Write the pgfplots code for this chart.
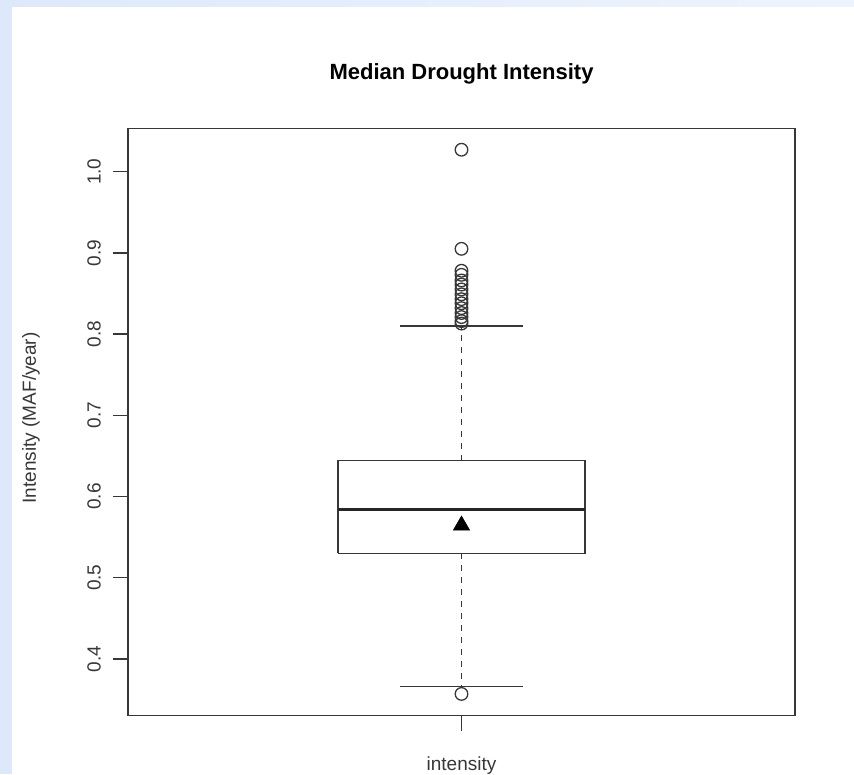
\documentclass[border=0pt]{standalone}
\usepackage{pgfplots}
\pgfplotsset{compat=1.18}
\usepackage{fontspec}
\setmainfont{Liberation Sans}
\definecolor{bgblue}{RGB}{221,233,251}
\definecolor{bgblue2}{RGB}{238,244,253}
\definecolor{ink}{RGB}{55,55,55}
\begin{document}
\begin{tikzpicture}[x=1pt,y=1pt]
\path[use as bounding box] (0,0) rectangle (854,774);
\fill[white] (0,0) rectangle (854,774);
\shade[left color=bgblue, right color=bgblue2] (0,767) rectangle (854,774);
\fill[bgblue] (0,0) rectangle (12,774);
\begin{axis}[
  at={(128pt,58.3pt)}, anchor=south west,
  width=667pt, height=587.4pt, scale only axis,
  xmin=0.5, xmax=1.5, ymin=0.3302, ymax=1.0534,
  axis line style={ink, line width=1.3pt},
  xtick={1}, xticklabels={intensity},
  ytick={0.4,0.5,0.6,0.7,0.8,0.9,1.0},
  yticklabel style={rotate=90, anchor=south, inner xsep=0pt, inner ysep=12pt},
  yticklabel style={/pgf/number format/.cd, fixed, fixed zerofill, precision=1},
  xticklabel style={yshift=-22pt},
  /pgf/number format/assume math mode=true,
  tick align=outside, major tick length=15pt,
  tick style={ink, line width=1.3pt},
  xtick pos=left, ytick pos=left,
  tick label style={font=\fontsize{19}{22}\selectfont, text=ink},
  title={Median Drought Intensity},
  title style={font=\fontsize{22}{26}\selectfont\bfseries, at={(axis description cs:0.5,1)}, anchor=center, yshift=48pt},
  ylabel={Intensity (MAF/year)},
  ylabel style={font=\fontsize{19}{22}\selectfont, text=ink, at={(axis description cs:-0.1454,0.507)}, anchor=center},
  clip=false,
]
% box
\addplot[ink, line width=1.3pt] coordinates {(0.815,0.530) (1.185,0.530) (1.185,0.644) (0.815,0.644) (0.815,0.530)};
% median
\addplot[black!85, line width=3.2pt] coordinates {(0.815,0.5836) (1.185,0.5836)};
% whiskers (dashed)
\addplot[ink, line width=1.3pt, dash pattern=on 6pt off 6pt] coordinates {(1,0.644) (1,0.810)};
\addplot[ink, line width=1.3pt, dash pattern=on 6pt off 6pt] coordinates {(1,0.530) (1,0.366)};
% caps
\addplot[ink, line width=1.3pt] coordinates {(0.9075,0.810) (1.0925,0.810)};
\addplot[ink, line width=1.3pt] coordinates {(0.9075,0.366) (1.0925,0.366)};
% outliers
\addplot[only marks, mark=o, mark size=6.3pt, ink, mark options={line width=1.3pt}] coordinates {
(1,1.027) (1,0.905) (1,0.878) (1,0.873) (1,0.866) (1,0.861) (1,0.855) (1,0.849) (1,0.843) (1,0.838) (1,0.832) (1,0.826) (1,0.821) (1,0.816) (1,0.813) (1,0.357)};
% mean
\addplot[only marks, mark=triangle*, mark size=9.5pt, black] coordinates {(1,0.5645)};
\end{axis}
\end{tikzpicture}
\end{document}
